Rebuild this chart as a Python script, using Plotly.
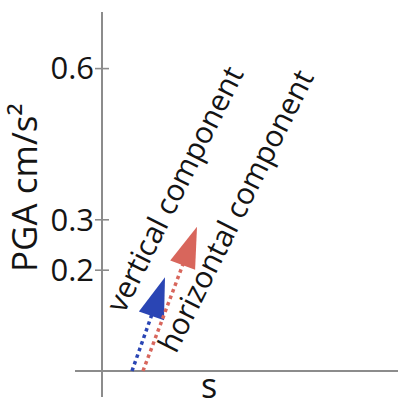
import plotly.graph_objects as go

# PGA growth of the two ground-motion components over time (s)
components = ["vertical component", "horizontal component"]
colors = ["#2a45b4", "#d8665c"]
t_start = [0.30, 0.41]      # s, onset of each arrow
t_end = [0.63, 0.95]        # s, tip of each arrow
pga_start = [0.0, 0.0]      # cm/s^2
pga_end = [0.186, 0.286]    # cm/s^2

# label centres (data coords) for the rotated component names
label_t = [0.72, 1.33]
label_pga = [0.362, 0.318]

y_ticks = [0.2, 0.3, 0.6]
y_ticktext = ["0.2", "0.3", "0.6"]

AXIS_GREY = "#8c8c8c"
INK = "#141414"
FONT = "Open Sans"

# plot area in pixels: left 75, right 398, top 12, bottom 397
L, R, T, B = 75, 398, 12, 397
W, H = R - L, B - T

fig = go.Figure()

for name, c, t0, t1, p0, p1 in zip(components, colors, t_start, t_end, pga_start, pga_end):
    fig.add_trace(go.Scatter(
        x=[t0, t1], y=[p0, p1], mode="lines+markers",
        line=dict(color=c, width=3.5, dash="dot"),
        marker=dict(symbol="arrow", angleref="previous", size=[0, 43], color=c,
                    opacity=1, line=dict(width=0)),
        showlegend=False, hoverinfo="skip", cliponaxis=False,
    ))

# small cross ticks on the PGA axis
fig.add_trace(go.Scatter(
    x=[0] * len(y_ticks), y=y_ticks, mode="markers",
    marker=dict(symbol="line-ew", size=10, line=dict(color=AXIS_GREY, width=1.6)),
    showlegend=False, hoverinfo="skip",
))

for name, lt, lp in zip(components, label_t, label_pga):
    fig.add_annotation(x=lt, y=lp, xref="x", yref="y", text=name, showarrow=False,
                       textangle=-63.5, xanchor="center", yanchor="middle",
                       font=dict(family=FONT, size=30, color=INK))

# axis titles
fig.add_annotation(x=(23 - L) / W, y=(B - 188) / H, xref="paper", yref="paper",
                   text="PGA cm/s²", showarrow=False, textangle=-90,
                   xanchor="center", yanchor="middle",
                   font=dict(family=FONT, size=35, color=INK))
fig.add_annotation(x=(209 - L) / W, y=(B - 409) / H, xref="paper", yref="paper",
                   text="s", showarrow=False, xanchor="center", yanchor="bottom",
                   borderpad=0,
                   font=dict(family=FONT, size=34, color=INK))

fig.update_layout(
    width=398, height=409,
    margin=dict(l=L, r=398 - R, t=T, b=409 - B),
    paper_bgcolor="white", plot_bgcolor="white",
    font=dict(family=FONT, color=INK),
    xaxis=dict(range=[-0.27, 2.96], showgrid=False, showticklabels=False, ticks="",
               zeroline=True, zerolinecolor=AXIS_GREY, zerolinewidth=2, showline=False,
               fixedrange=True),
    yaxis=dict(range=[-0.0516, 0.7123], showgrid=False, zeroline=True,
               zerolinecolor=AXIS_GREY, zerolinewidth=2, showline=False,
               tickvals=y_ticks, ticktext=y_ticktext, ticks="",
               tickfont=dict(family=FONT, size=31, color=INK), ticklabelstandoff=8,
               anchor="free", position=27 / W, fixedrange=True),
)

fig.write_html("out.html")
